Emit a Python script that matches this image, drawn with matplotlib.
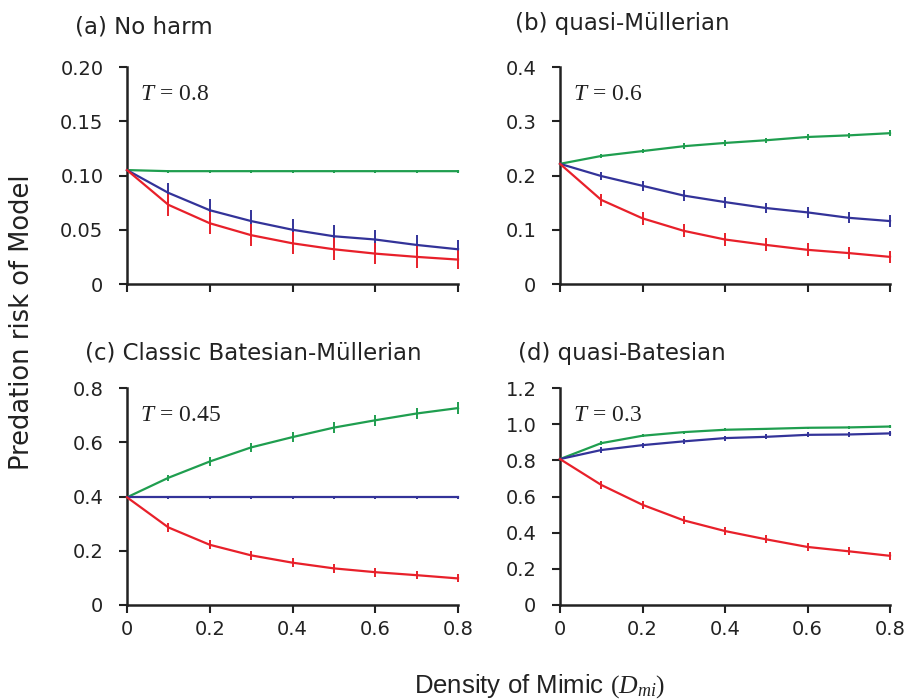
import numpy as np
import matplotlib
matplotlib.use("Agg")
import matplotlib.pyplot as plt

plt.rcParams['font.family'] = ['DejaVu Sans']
plt.rcParams['mathtext.fontset'] = 'custom'
plt.rcParams['mathtext.it'] = 'Liberation Serif:italic'
plt.rcParams['mathtext.rm'] = 'Liberation Serif'

x = [0, 0.1, 0.2, 0.3, 0.4, 0.5, 0.6, 0.7, 0.8]

# (a) No harm
a_green = [0.105, 0.104, 0.104, 0.104, 0.104, 0.104, 0.104, 0.104, 0.104]
a_blue = [0.105, 0.084, 0.068, 0.058, 0.050, 0.044, 0.041, 0.036, 0.032]
a_red = [0.105, 0.073, 0.056, 0.045, 0.0375, 0.032, 0.028, 0.025, 0.0225]
a_green_err = [0, 0.0015, 0.0015, 0.0015, 0.0015, 0.0015, 0.0015, 0.0015, 0.0015]
a_blue_err = [0, 0.009, 0.010, 0.010, 0.010, 0.010, 0.009, 0.009, 0.009]
a_red_err = [0, 0.010, 0.010, 0.010, 0.010, 0.010, 0.010, 0.010, 0.009]

# (b) quasi-Müllerian
b_green = [0.2215, 0.236, 0.245, 0.254, 0.260, 0.265, 0.271, 0.274, 0.278]
b_blue = [0.2215, 0.199, 0.181, 0.163, 0.151, 0.140, 0.132, 0.122, 0.116]
b_red = [0.2215, 0.155, 0.121, 0.098, 0.082, 0.072, 0.063, 0.057, 0.050]
b_green_err = [0, 0.004, 0.004, 0.005, 0.005, 0.005, 0.005, 0.005, 0.006]
b_blue_err = [0, 0.008, 0.009, 0.010, 0.010, 0.010, 0.010, 0.010, 0.011]
b_red_err = [0, 0.011, 0.012, 0.012, 0.012, 0.012, 0.012, 0.011, 0.011]

# (c) Classic Batesian-Müllerian
c_green = [0.397, 0.469, 0.529, 0.581, 0.619, 0.654, 0.681, 0.706, 0.726]
c_blue = [0.397, 0.397, 0.397, 0.397, 0.397, 0.397, 0.397, 0.397, 0.397]
c_red = [0.397, 0.286, 0.222, 0.183, 0.156, 0.135, 0.121, 0.110, 0.098]
c_green_err = [0, 0.012, 0.015, 0.017, 0.018, 0.020, 0.020, 0.021, 0.022]
c_blue_err = [0, 0.005, 0.005, 0.005, 0.005, 0.005, 0.005, 0.005, 0.005]
c_red_err = [0, 0.017, 0.017, 0.017, 0.017, 0.016, 0.016, 0.015, 0.015]

# (d) quasi-Batesian
d_green = [0.807, 0.895, 0.936, 0.956, 0.969, 0.974, 0.980, 0.982, 0.987]
d_blue = [0.807, 0.857, 0.884, 0.905, 0.923, 0.930, 0.941, 0.943, 0.949]
d_red = [0.807, 0.664, 0.554, 0.468, 0.409, 0.363, 0.321, 0.297, 0.272]
d_green_err = [0, 0.010, 0.009, 0.008, 0.008, 0.007, 0.007, 0.007, 0.007]
d_blue_err = [0, 0.014, 0.014, 0.014, 0.014, 0.014, 0.013, 0.013, 0.013]
d_red_err = [0, 0.021, 0.022, 0.022, 0.022, 0.022, 0.022, 0.022, 0.022]

titles = ["(a) No harm", "(b) quasi-Müllerian",
          "(c) Classic Batesian-Müllerian", "(d) quasi-Batesian"]
t_labels = ["0.8", "0.6", "0.45", "0.3"]
yticks_list = [[0, 0.05, 0.10, 0.15, 0.20], [0, 0.1, 0.2, 0.3, 0.4],
               [0, 0.2, 0.4, 0.6, 0.8], [0, 0.2, 0.4, 0.6, 0.8, 1.0, 1.2]]
ytick_labels = [["0", "0.05", "0.10", "0.15", "0.20"],
                ["0", "0.1", "0.2", "0.3", "0.4"],
                ["0", "0.2", "0.4", "0.6", "0.8"],
                ["0", "0.2", "0.4", "0.6", "0.8", "1.0", "1.2"]]
xticks = [0, 0.2, 0.4, 0.6, 0.8]
xtick_labels = ["0", "0.2", "0.4", "0.6", "0.8"]

panels = [
    (a_green, a_green_err, a_blue, a_blue_err, a_red, a_red_err),
    (b_green, b_green_err, b_blue, b_blue_err, b_red, b_red_err),
    (c_green, c_green_err, c_blue, c_blue_err, c_red, c_red_err),
    (d_green, d_green_err, d_blue, d_blue_err, d_red, d_red_err),
]

GREEN = "#1f9e4f"
BLUE = "#333399"
RED = "#e8202a"
TXT = "#222222"

fig = plt.figure(figsize=(9.06, 6.99), dpi=100)
W, H = 906, 699
rects = [(127, 67, 458, 284), (560, 67, 890, 284),
         (127, 388, 458, 605), (560, 388, 890, 605)]
title_pos = [(75, 33), (515, 30), (85, 359), (518, 360)]

for i, (l, t, r, b) in enumerate(rects):
    ax = fig.add_axes([l / W, 1 - b / H, (r - l) / W, (b - t) / H])
    g, ge, bl, ble, rd, rde = panels[i]
    for yv, ev, col in [(g, ge, GREEN), (bl, ble, BLUE), (rd, rde, RED)]:
        ax.errorbar(x, yv, yerr=ev, color=col, lw=1.6, elinewidth=1.4,
                    capsize=0, clip_on=False, zorder=3)
    ax.set_xlim(0, 0.8)
    yt = yticks_list[i]
    ax.set_ylim(0, yt[-1])
    ax.set_yticks(yt)
    ax.set_yticklabels(ytick_labels[i])
    ax.set_xticks(xticks)
    if i >= 2:
        ax.set_xticklabels(xtick_labels)
    else:
        ax.set_xticklabels([])
    for s in ["top", "right"]:
        ax.spines[s].set_visible(False)
    for s in ["left", "bottom"]:
        ax.spines[s].set_linewidth(1.8)
        ax.spines[s].set_color(TXT)
    ax.tick_params(direction="out", length=6, width=1.5, colors=TXT,
                   labelsize=14, labelcolor=TXT)
    ax.tick_params(axis="y", pad=11)
    ax.tick_params(axis="x", pad=5)
    ax.text(0.04, 0.935, r"$T\/=\/\mathrm{" + t_labels[i] + "}$",
            transform=ax.transAxes, fontsize=17, color=TXT, va="top",
            ha="left")
    tx, ty = title_pos[i]
    fig.text(tx / W, 1 - ty / H, titles[i], fontsize=16.5, color=TXT,
             ha="left", va="baseline")

fig.text(22 / W, 1 - 322 / H, "Predation risk of Model", rotation=90,
         fontsize=18.5, color=TXT, ha="center", va="center")
fig.text(540 / W, 1 - 693 / H, "Density of Mimic " + r"$(D_{mi})$",
         fontsize=18.5, color=TXT, ha="center", va="baseline",
         family="Liberation Sans")

fig.savefig("out.png", dpi=100)
